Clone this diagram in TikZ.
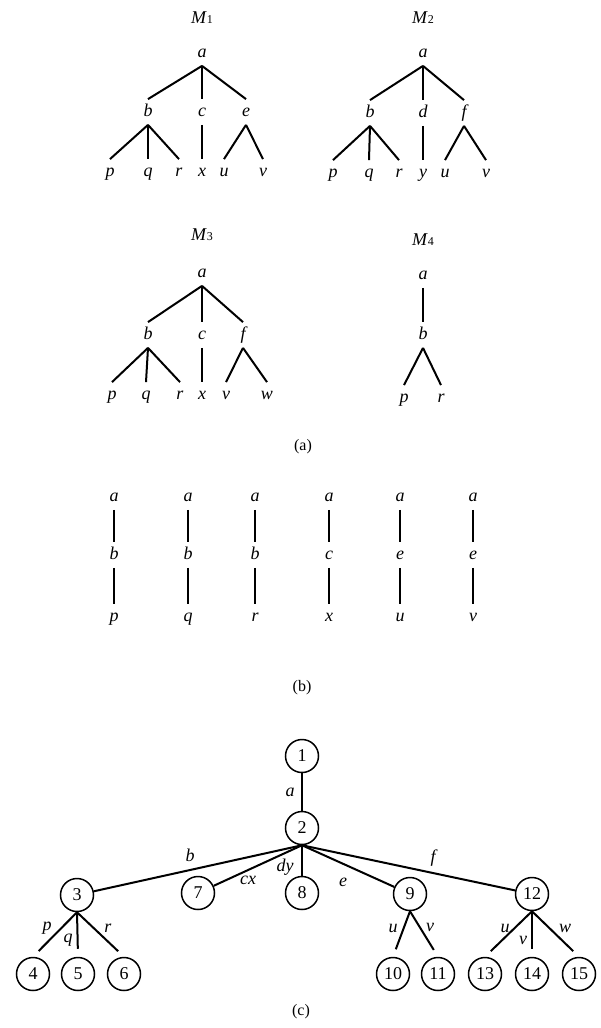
\documentclass[tikz,border=0pt]{standalone}
\usepackage{fontspec}
\setmainfont{Liberation Serif}
\begin{document}
\begin{tikzpicture}[x=1pt,y=-1pt,
  lt/.style={font=\fontsize{18}{18}\selectfont\itshape, text height=8pt, text depth=0pt, inner xsep=1pt, inner ysep=8.7pt},
  ed/.style={line width=2pt},
  cn/.style={circle, draw, line width=1.5pt, minimum size=33pt, inner sep=0pt, font=\fontsize{18}{18}\selectfont},
  el/.style={font=\fontsize{18}{18}\selectfont\itshape, inner sep=0pt},
  mlab/.style={font=\fontsize{18}{18}\selectfont, inner sep=0pt},
  captxt/.style={font=\fontsize{16}{16}\selectfont, inner sep=0pt}
]
\useasboundingbox (0,0) rectangle (600,1028);
\newcommand{\Mlab}[1]{\textit{M}{\fontsize{12}{12}\selectfont #1}}

% ---------- M1 ----------
\node[mlab] (m1) at (202,18) {\Mlab{1}};
\node[lt] (a1) at (202,53) {a};
\node[lt] (b1) at (148,112) {b};
\node[lt] (c1) at (202,112) {c};
\node[lt] (e1) at (246,112) {e};
\node[lt] (p1) at (110,172) {p};
\node[lt] (q1) at (148,172) {q};
\node[lt] (r1) at (179,172) {r};
\node[lt] (x1) at (202,172) {x};
\node[lt] (u1) at (224,172) {u};
\node[lt] (v1) at (263,172) {v};
\draw[ed] (a1.south) -- (b1.north);
\draw[ed] (a1.south) -- (c1.north);
\draw[ed] (a1.south) -- (e1.north);
\draw[ed] (b1.south) -- (p1.north);
\draw[ed] (b1.south) -- (q1.north);
\draw[ed] (b1.south) -- (r1.north);
\draw[ed] (c1.south) -- (x1.north);
\draw[ed] (e1.south) -- (u1.north);
\draw[ed] (e1.south) -- (v1.north);

% ---------- M2 ----------
\node[mlab] (m2) at (423,18) {\Mlab{2}};
\node[lt] (a2) at (423,53) {a};
\node[lt] (b2) at (370,113) {b};
\node[lt] (d2) at (423,113) {d};
\node[lt] (f2) at (464,113) {f};
\node[lt] (p2) at (333,173) {p};
\node[lt] (q2) at (369,173) {q};
\node[lt] (r2) at (399,173) {r};
\node[lt] (y2) at (423,173) {y};
\node[lt] (u2) at (445,173) {u};
\node[lt] (v2) at (486,173) {v};
\draw[ed] (a2.south) -- (b2.north);
\draw[ed] (a2.south) -- (d2.north);
\draw[ed] (a2.south) -- (f2.north);
\draw[ed] (b2.south) -- (p2.north);
\draw[ed] (b2.south) -- (q2.north);
\draw[ed] (b2.south) -- (r2.north);
\draw[ed] (d2.south) -- (y2.north);
\draw[ed] (f2.south) -- (u2.north);
\draw[ed] (f2.south) -- (v2.north);

% ---------- M3 ----------
\node[mlab] (m3) at (202,235) {\Mlab{3}};
\node[lt] (a3) at (202,273) {a};
\node[lt] (b3) at (148,335) {b};
\node[lt] (c3) at (202,335) {c};
\node[lt] (f3) at (243,335) {f};
\node[lt] (p3) at (112,395) {p};
\node[lt] (q3) at (146,395) {q};
\node[lt] (r3) at (180,395) {r};
\node[lt] (x3) at (202,395) {x};
\node[lt] (v3) at (226,395) {v};
\node[lt] (w3) at (267,395) {w};
\draw[ed] (a3.south) -- (b3.north);
\draw[ed] (a3.south) -- (c3.north);
\draw[ed] (a3.south) -- (f3.north);
\draw[ed] (b3.south) -- (p3.north);
\draw[ed] (b3.south) -- (q3.north);
\draw[ed] (b3.south) -- (r3.north);
\draw[ed] (c3.south) -- (x3.north);
\draw[ed] (f3.south) -- (v3.north);
\draw[ed] (f3.south) -- (w3.north);

% ---------- M4 ----------
\node[mlab] (m4) at (423,240) {\Mlab{4}};
\node[lt] (a4) at (423,275) {a};
\node[lt] (b4) at (423,335) {b};
\node[lt] (p4) at (404,398) {p};
\node[lt] (r4) at (441,398) {r};
\draw[ed] (a4.south) -- (b4.north);
\draw[ed] (b4.south) -- (p4.north);
\draw[ed] (b4.south) -- (r4.north);

\node[captxt] (capa) at (303,447) {(a)};

% ---------- (b) ----------
\foreach \i/\xx/\mm/\ll in {1/114/b/p, 2/188/b/q, 3/255/b/r, 4/329/c/x, 5/400/e/u, 6/473/e/v}{
  \node[lt] (ba\i) at (\xx,497) {a};
  \node[lt] (bm\i) at (\xx,555) {\mm};
  \node[lt] (bl\i) at (\xx,617) {\ll};
  \draw[ed] (ba\i.south) -- (bm\i.north);
  \draw[ed] (bm\i.south) -- (bl\i.north);
}
\node[captxt] (capb) at (302,688) {(b)};

% ---------- (c) ----------
\node[cn] (n1) at (302,756) {1};
\node[cn] (n2) at (302,828) {2};
\node[cn] (n3) at (77,895) {3};
\node[cn] (n7) at (198,893) {7};
\node[cn] (n8) at (302,893) {8};
\node[cn] (n9) at (410,894) {9};
\node[cn] (n12) at (532,894) {12};
\node[cn] (n4) at (33,974) {4};
\node[cn] (n5) at (78,974) {5};
\node[cn] (n6) at (124,974) {6};
\node[cn] (n10) at (393,974) {10};
\node[cn] (n11) at (438,974) {11};
\node[cn] (n13) at (485,974) {13};
\node[cn] (n14) at (532,974) {14};
\node[cn] (n15) at (579,974) {15};

\draw[ed] (n1) -- (n2);
\draw[ed] (n2.south) -- (n3);
\draw[ed] (n2.south) -- (n7);
\draw[ed] (n2.south) -- (n8);
\draw[ed] (n2.south) -- (n9);
\draw[ed] (n2.south) -- (n12);
\draw[ed, shorten >=8pt] (n3.south) -- (n4.north);
\draw[ed, shorten >=8pt] (n3.south) -- (n5.north);
\draw[ed, shorten >=8pt] (n3.south) -- (n6.north);
\draw[ed, shorten >=8pt] (n9.south) -- (n10.north);
\draw[ed, shorten >=8pt] (n9.south) -- (n11.north);
\draw[ed, shorten >=8pt] (n12.south) -- (n13.north);
\draw[ed, shorten >=8pt] (n12.south) -- (n14.north);
\draw[ed, shorten >=8pt] (n12.south) -- (n15.north);

\node[el] (la) at (290,792) {a};
\node[el] (lb) at (190,855) {b};
\node[el] (lcx) at (248,880) {cx};
\node[el] (ldy) at (285,867) {dy};
\node[el] (le) at (343,882) {e};
\node[el] (lf) at (433,858) {f};
\node[el] (lp) at (47,928) {p};
\node[el] (lq) at (68,940) {q};
\node[el] (lr) at (108,928) {r};
\node[el] (lu9) at (393,928) {u};
\node[el] (lv9) at (430,927) {v};
\node[el] (lu12) at (505,928) {u};
\node[el] (lv12) at (523,940) {v};
\node[el] (lw12) at (565,928) {w};

\node[captxt] (capc) at (301,1012) {(c)};
\end{tikzpicture}
\end{document}
